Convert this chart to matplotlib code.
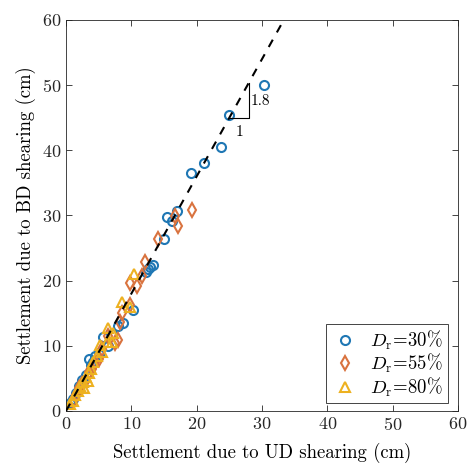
import matplotlib
matplotlib.use("Agg")
import matplotlib.pyplot as plt

plt.rcParams["font.family"] = "serif"
plt.rcParams["font.serif"] = ["cmr10"]
plt.rcParams["mathtext.fontset"] = "cm"
plt.rcParams["axes.formatter.use_mathtext"] = True

# Dr = 30 %
ud_30 = [30.3, 25.0, 23.7, 21.1, 19.1, 17.0, 15.5, 16.2, 15.0, 13.3, 12.9, 12.6,
         12.3, 10.3, 8.7, 8.0, 7.0, 5.7, 6.5, 5.0, 4.5, 4.2, 3.8, 3.0, 2.5, 2.0,
         1.5, 1.0, 0.6, 3.5]
bd_30 = [50.1, 45.4, 40.5, 38.0, 36.5, 30.7, 29.8, 29.1, 26.4, 22.4, 22.1, 21.8,
         21.4, 15.5, 13.5, 13.0, 11.8, 11.3, 10.0, 8.8, 8.5, 7.5, 7.0, 5.5, 4.8, 3.8,
         2.8, 1.9, 1.2, 8.0]

# Dr = 55 %
ud_55 = [19.3, 16.7, 17.2, 14.1, 12.1, 11.6, 9.8, 10.9, 9.8, 8.6, 8.3, 8.0, 7.5,
         6.5, 5.5, 5.0, 4.5, 4.0, 3.5, 3.0, 2.5, 2.0, 1.5, 1.0]
bd_55 = [30.8, 29.9, 28.4, 26.4, 22.9, 20.7, 19.6, 19.2, 16.2, 15.0, 13.7, 10.9,
         10.4, 11.5, 9.5, 8.0, 7.5, 6.5, 6.0, 4.8, 4.2, 3.5, 2.5, 1.5]

# Dr = 80 %
ud_80 = [10.4, 8.6, 9.8, 6.4, 7.2, 6.3, 7.0, 5.2, 5.5, 4.8, 4.2, 3.8, 3.5, 3.0,
         2.6, 2.2, 1.8, 1.4, 1.0, 0.6, 2.8, 3.4]
bd_80 = [21.0, 16.7, 16.0, 12.7, 12.0, 10.6, 10.6, 10.1, 9.0, 8.5, 7.5, 6.5, 5.8,
         5.2, 4.5, 3.8, 3.0, 2.4, 1.6, 1.0, 3.6, 4.6]

slope = 1.8
line_x = [0, 60 / slope]
line_y = [0, 60]

fig = plt.figure(figsize=(4.7, 4.68), dpi=100)
ax = fig.add_axes([0.1404, 0.1218, 0.8341, 0.8355])

ms = 6.5
mew = 1.5
ax.plot(ud_30, bd_30, "o", ms=ms, mew=mew, mfc="none", color="#1F77B4",
        label=r"$D_{\mathrm{r}}\!=\!30\%$")
ax.plot(ud_55, bd_55, "d", ms=ms + 1, mew=mew, mfc="none", color="#D9733F",
        label=r"$D_{\mathrm{r}}\!=\!55\%$")
ax.plot(ud_80, bd_80, "^", ms=ms + 0.5, mew=mew, mfc="none", color="#EDB120",
        label=r"$D_{\mathrm{r}}\!=\!80\%$")

ax.plot(line_x, line_y, "k--", lw=1.5, dashes=(4, 4), zorder=5)

# slope triangle
ax.plot([25, 28, 28], [45, 45, 45 + 3 * slope], "k-", lw=0.8)
ax.text(26.6, 43.8, "1", fontsize=11, ha="center", va="top")
ax.text(28.3, 47.6, "1.8", fontsize=11, ha="left", va="center")

ax.set_xlim(0, 60)
ax.set_ylim(0, 60)
ax.set_xticks(range(0, 61, 10))
ax.set_yticks(range(0, 61, 10))
ax.tick_params(direction="in", top=True, right=True, length=4, width=0.6,
               labelsize=13, colors="#262626")
for s in ax.spines.values():
    s.set_color("#262626")
    s.set_linewidth(0.6)

ax.set_xlabel("Settlement due to UD shearing (cm)", fontsize=13.5, labelpad=7)
ax.set_ylabel("Settlement due to BD shearing (cm)", fontsize=13.5, labelpad=4)

leg = ax.legend(loc="lower right", fontsize=13.5, fancybox=False,
                edgecolor="#262626", framealpha=1, handletextpad=0.6,
                borderpad=0.25, borderaxespad=0.4, labelspacing=0.02,
                handlelength=1.5, bbox_to_anchor=(0.993, 0.0))
leg.get_frame().set_linewidth(0.6)

fig.savefig("out.png", dpi=100)
